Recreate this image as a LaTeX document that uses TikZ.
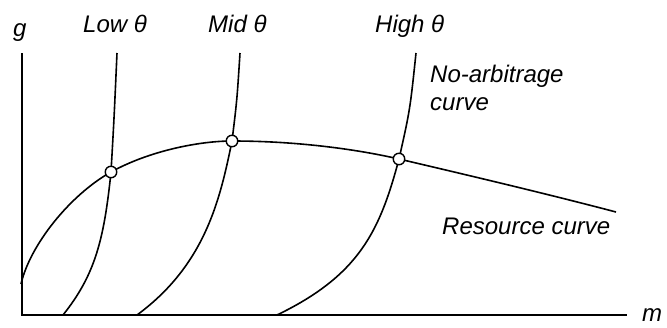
\documentclass[tikz,border=0pt]{standalone}
\usepackage{fontspec}
\setmainfont{Liberation Sans}
\begin{document}
\begin{tikzpicture}[x=1pt,y=-1pt,
  lbl/.style={anchor=base west,inner sep=0pt,font=\fontsize{24}{28}\selectfont\itshape},
  axis/.style={line width=2pt},
  crv/.style={line width=1.6pt},
  eq/.style={circle,draw,fill=white,line width=1.4pt,minimum size=11.5pt,inner sep=0pt}]
\useasboundingbox (0,0) rectangle (667,327);
% axes
\coordinate (top) at (22,53);
\coordinate (org) at (22,315);
\coordinate (right) at (627,315);
\draw[axis] (top) -- (org) -- (right);
% equilibrium points (positions)
\coordinate (p1) at (111,172);
\coordinate (p2) at (232,141);
\coordinate (p3) at (399,159);
% resource curve
\draw[crv] (21,284) .. controls (30,245) and (70,195) .. (p1)
  .. controls (150,150.5) and (200,141) .. (p2)
  .. controls (300,141) and (360,150) .. (p3)
  .. controls (450,171) and (540,192) .. (616,212);
% no-arbitrage curves
\draw[crv] (117,53) .. controls (114,120) .. (p1)
  .. controls (104,240) and (95,275) .. (63,315);
\draw[crv] (240,53) .. controls (237,100) .. (p2)
  .. controls (220,200) and (205,265) .. (137,315);
\draw[crv] (416,53) .. controls (410,110) .. (p3)
  .. controls (380,230) and (360,275) .. (277,315);
% equilibria
\node[eq] (e1) at (p1) {};
\node[eq] (e2) at (p2) {};
\node[eq] (e3) at (p3) {};
% labels
\node[lbl] (g) at (13,36) {g};
\node[lbl] (m) at (642,321) {m};
\node[lbl] (low) at (83,32) {Low θ};
\node[lbl] (mid) at (208,32) {Mid θ};
\node[lbl] (high) at (375,32) {High θ};
\node[lbl] (na1) at (430,82) {No-arbitrage};
\node[lbl] (na2) at (430,110) {curve};
\node[lbl] (rc) at (442,234) {Resource curve};
\end{tikzpicture}
\end{document}
